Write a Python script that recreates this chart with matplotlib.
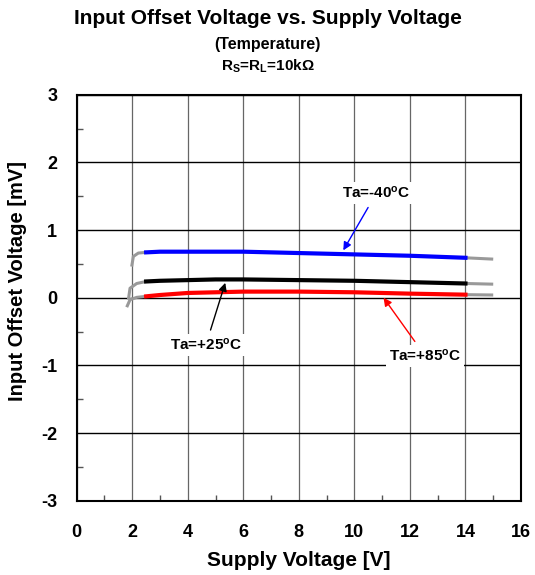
import matplotlib
matplotlib.use("Agg")
import matplotlib.pyplot as plt
from matplotlib.ticker import MultipleLocator

plt.rcParams['font.family'] = ['Liberation Sans', 'DejaVu Sans']
plt.rcParams['font.weight'] = 'bold'
plt.rcParams['axes.unicode_minus'] = False
plt.rcParams['mathtext.fontset'] = 'custom'
plt.rcParams['mathtext.rm'] = 'Liberation Sans:bold'
plt.rcParams['mathtext.it'] = 'Liberation Sans:bold'
plt.rcParams['mathtext.bf'] = 'Liberation Sans:bold'

# Data (supply voltage [V], offset voltage [mV])
v_main = [2.5, 3, 4, 5, 6, 8, 10, 12, 14]
m40_main = [0.67, 0.68, 0.68, 0.68, 0.68, 0.66, 0.64, 0.62, 0.59]
p25_main = [0.24, 0.25, 0.26, 0.27, 0.27, 0.26, 0.25, 0.23, 0.21]
p85_main = [0.02, 0.04, 0.07, 0.08, 0.09, 0.09, 0.08, 0.06, 0.045]

v_start_m40 = [1.98, 2.04, 2.22, 2.5]
m40_start = [0.46, 0.61, 0.66, 0.67]
v_start_p25 = [1.86, 1.92, 2.16, 2.5]
p25_start = [-0.03, 0.14, 0.21, 0.24]
v_start_p85 = [1.80, 1.92, 2.16, 2.5]
p85_start = [-0.14, -0.03, 0.005, 0.02]

v_end = [14, 15]
m40_end = [0.59, 0.57]
p25_end = [0.21, 0.20]
p85_end = [0.045, 0.04]

fig = plt.figure(figsize=(5.35, 5.75), dpi=100)
ax = fig.add_axes([0.1434, 0.1292, 0.8304, 0.7061])

gray = '#999999'
for vs, ys in [(v_start_m40, m40_start), (v_start_p25, p25_start), (v_start_p85, p85_start)]:
    ax.plot(vs, ys, color=gray, lw=2.2, solid_capstyle='butt', zorder=3)
for ys in [m40_end, p25_end, p85_end]:
    ax.plot(v_end, ys, color=gray, lw=2.2, solid_capstyle='butt', zorder=3)
ax.plot(v_main, m40_main, color='#0000ff', lw=3, zorder=4)
ax.plot(v_main, p25_main, color='#000000', lw=3, zorder=4)
ax.plot(v_main, p85_main, color='#ff0000', lw=3, zorder=4)

ax.set_xlim(0, 16)
ax.set_ylim(-3, 3)
ax.xaxis.set_major_locator(MultipleLocator(2))
ax.xaxis.set_minor_locator(MultipleLocator(1))
ax.yaxis.set_major_locator(MultipleLocator(1))
ax.yaxis.set_minor_locator(MultipleLocator(0.5))
ax.xaxis.grid(True, which='major', color='#666666', lw=0.9)
ax.yaxis.grid(True, which='major', color='#000000', lw=1.0)
ax.set_axisbelow(True)
ax.tick_params(which='major', length=0, labelsize=13, pad=14)
ax.tick_params(axis='x', which='major', pad=17)
ax.tick_params(which='minor', direction='in', length=4, width=1, color='#555555')
for s in ax.spines.values():
    s.set_linewidth(1.5)
    s.set_color('black')

ax.set_xlabel('Supply Voltage [V]', fontsize=15, fontweight='bold')
ax.xaxis.set_label_coords(0.5, -0.125)
ax.set_ylabel('Input Offset Voltage [mV]', fontsize=14.5, fontweight='bold')
ax.yaxis.set_label_coords(-0.113, 0.54)

fig.text(0.5, 0.967, 'Input Offset Voltage vs. Supply Voltage', ha='center', va='center',
         fontsize=15, fontweight='bold')
fig.text(0.5, 0.922, '(Temperature)', ha='center', va='center', fontsize=11.5, fontweight='bold')
fig.text(0.5, 0.884, r'R$_{\rm S}$=R$_{\rm L}$=10kΩ', ha='center', va='center',
         fontsize=11, fontweight='bold')

bbox = dict(boxstyle='square,pad=0.2', fc='white', ec='none')
ax.annotate(r'Ta=-40$^{\rm o}$C', xy=(9.6, 0.70), xytext=(10.8, 1.55), ha='center', va='center',
            fontsize=11, fontweight='bold', bbox=bbox,
            arrowprops=dict(arrowstyle='-|>', color='#0000ff', lw=1, mutation_scale=12, shrinkA=3, shrinkB=0), zorder=6)
ax.annotate(r'Ta=+25$^{\rm o}$C', xy=(5.35, 0.22), xytext=(4.65, -0.70), ha='center', va='center',
            fontsize=11, fontweight='bold', bbox=bbox,
            arrowprops=dict(arrowstyle='-|>', color='#000000', lw=1, mutation_scale=12, shrinkA=3, shrinkB=0), zorder=6)
ax.annotate(r'Ta=+85$^{\rm o}$C', xy=(11.05, 0.0), xytext=(12.55, -0.86), ha='center', va='center',
            fontsize=11, fontweight='bold', bbox=bbox,
            arrowprops=dict(arrowstyle='-|>', color='#ff0000', lw=1, mutation_scale=12, shrinkA=3, shrinkB=0), zorder=6)

fig.savefig('out.png', dpi=100)
